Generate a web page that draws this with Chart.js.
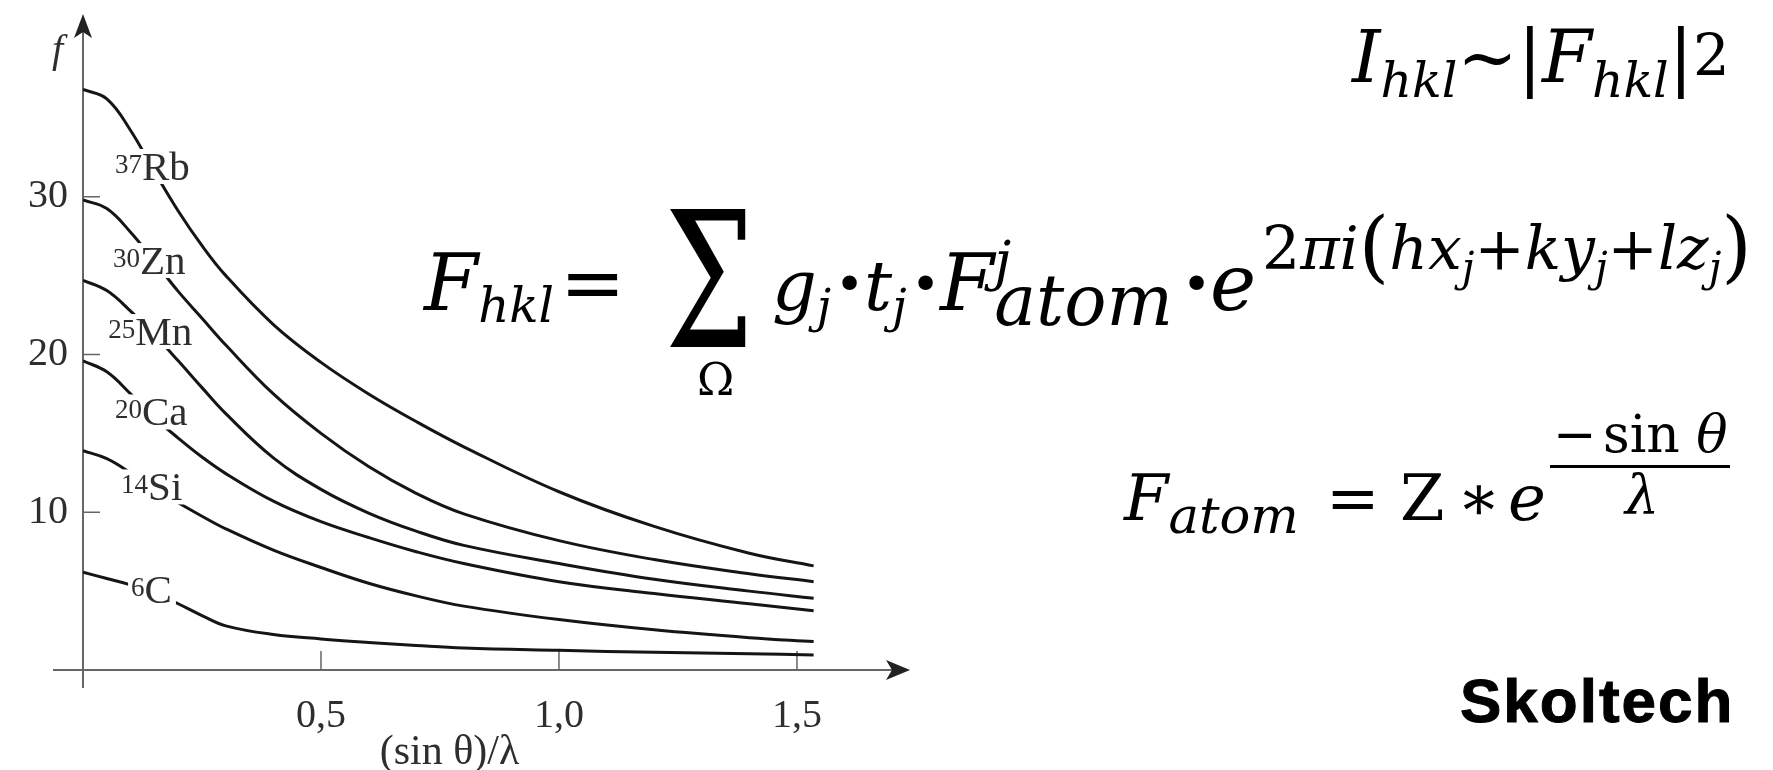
<!DOCTYPE html>
<html>
<head>
<meta charset="utf-8">
<title>Atomic scattering factor</title>
<script src="https://cdn.jsdelivr.net/npm/chart.js@4.4.0/dist/chart.umd.min.js"></script>
<style>
  html, body { margin: 0; padding: 0; background: #fff; }
  #page { position: relative; width: 1773px; height: 770px; overflow: hidden; }
  #chartBox { position: absolute; left: 0; top: 0; width: 1773px; height: 770px; }
  .math { position: absolute; font-family: 'DejaVu Serif', serif; line-height: 1; white-space: nowrap; color: #000; }
  .math i { font-style: italic; }
  .sb { font-size: 0.68em; font-style: italic; position: relative; top: 0.3em; }
  .sp { font-size: 0.68em; position: relative; top: -0.6em; }
  .big { font-size: 1.3em; position: relative; top: 0.05em; }
  .nw { display: inline-block; width: 0; }
  .dot { font-weight: bold; }
  #skoltech { position: absolute; font-family: 'Liberation Sans', Arial, sans-serif; font-weight: bold;
              line-height: 1; color: #000; letter-spacing: 2px; -webkit-text-stroke: 1px #000; }
  #fracLine { position: absolute; background: #000; }
</style>
</head>
<body>
<div id="page">
  <div id="chartBox"><canvas id="formFactorChart"></canvas></div>

  <!-- I_hkl ~ |F_hkl|^2 -->
  <div class="math" style="left:1352px; top:21px; font-size:72px;"><i>I</i><span class="sb">hkl</span>~|<i>F</i><span class="sb">hkl</span>|<span class="sp" style="font-size:0.8em; top:-0.12em;">2</span></div>

  <!-- structure factor -->
  <div class="math" style="left:424px; top:244px; font-size:78px;"><i>F</i><span class="sb" style="font-size:0.62em; top:0.25em;">hkl</span></div>
  <div class="math" style="left:560px; top:244px; font-size:78px;">=</div>
  <div class="math" style="left:665px; top:187px; font-size:190px; transform:scaleX(0.66); transform-origin:left top;">Σ</div>
  <div class="math" style="left:697px; top:357px; font-size:45px;">Ω</div>
  <div class="math" style="left:772px; top:251px; font-size:70px;"><i>g</i><span class="sb" style="font-size:0.66em; top:0.25em;">j</span></div>
  <div class="math dot" style="left:836px; top:244px; font-size:78px;">·</div>
  <div class="math" style="left:864px; top:251px; font-size:70px;"><i>t</i><span class="sb" style="font-size:0.66em; top:0.25em;">j</span></div>
  <div class="math dot" style="left:912px; top:244px; font-size:78px;">·</div>
  <div class="math" style="left:940px; top:244px; font-size:78px;"><i>F</i><span class="sp nw" style="font-size:0.7em; top:-0.55em;"><i>j</i></span><span class="sb" style="font-size:0.9em; top:0.22em;">atom</span></div>
  <div class="math dot" style="left:1183px; top:244px; font-size:78px;">·</div>
  <div class="math" style="left:1210px; top:244px; font-size:78px;"><i>e</i></div>
  <div class="math" style="left:1262px; top:203px; font-size:60px;">2<i>πi</i><span class="big">(</span><i>hx</i><span class="sb">j</span>+<i>ky</i><span class="sb">j</span>+<i>lz</i><span class="sb">j</span><span class="big">)</span></div>

  <!-- atomic factor -->
  <div class="math" style="left:1124px; top:466px; font-size:64px;"><i>F</i><span class="sb" style="font-size:0.8em; top:0.25em;">atom</span></div>
  <div class="math" style="left:1326px; top:466px; font-size:64px;">=</div>
  <div class="math" style="left:1400px; top:466px; font-size:64px;">Z</div>
  <div class="math" style="left:1457px; top:466px; font-size:64px;">∗</div>
  <div class="math" style="left:1508px; top:466px; font-size:64px;"><i>e</i></div>
  <div class="math" style="left:1553px; top:408px; font-size:52px;">−</div>
  <div class="math" style="left:1603px; top:408px; font-size:52px;">sin <i>θ</i></div>
  <div id="fracLine" style="left:1550px; top:465px; width:180px; height:3px;"></div>
  <div class="math" style="left:1625px; top:468px; font-size:54px;"><i>λ</i></div>

  <div id="skoltech" style="left:1460px; top:670px; font-size:62px;">Skoltech</div>
</div>

<script>
// f(sinθ/λ) for a few elements, read along a common grid
const sinThetaOverLambda = [0, 0.05, 0.1, 0.15, 0.2, 0.25, 0.3, 0.4, 0.5, 0.6, 0.7, 0.8, 1.0, 1.2, 1.4, 1.535];
const fRb = [36.8, 36.2, 34.2, 31.6, 29.1, 26.9, 25.0, 21.9, 19.5, 17.5, 15.75, 14.15, 11.3, 9.1, 7.4, 6.6];
const fZn = [29.8, 29.25, 27.75, 25.9, 24.0, 22.3, 20.6, 17.5, 15.0, 12.9, 11.2, 9.9, 8.2, 7.0, 6.1, 5.6];
const fMn = [24.7, 24.05, 22.75, 21.25, 19.6, 17.9, 16.25, 13.45, 11.45, 9.95, 8.8, 7.9, 6.75, 5.75, 5.0, 4.55];
const fCa = [19.6, 18.9, 17.5, 16.0, 14.7, 13.5, 12.45, 10.7, 9.4, 8.4, 7.5, 6.75, 5.6, 4.85, 4.2, 3.75];
const fSi = [13.9, 13.4, 12.5, 11.5, 10.6, 9.75, 8.95, 7.6, 6.5, 5.5, 4.7, 4.05, 3.2, 2.55, 2.05, 1.8];
const fC  = [6.2, 5.8, 5.4, 4.9, 4.2, 3.45, 2.8, 2.25, 1.97, 1.75, 1.56, 1.4, 1.25, 1.12, 1.03, 0.95];

// curve labels: element, Z, anchor (left edge, baseline) in data units
const elementSymbols = ['Rb', 'Zn', 'Mn', 'Ca', 'Si', 'C'];
const atomicNumbers = ['37', '30', '25', '20', '14', '6'];
const labelX = [0.067, 0.063, 0.053, 0.067, 0.080, 0.101];
const labelF = [31.06, 25.1, 20.6, 15.5, 10.75, 4.25];

const xTickValues = [0.5, 1.0, 1.5];
const yTickValues = [10, 20, 30];

const AXIS_COLOR = '#666';
const TEXT_COLOR = '#2e2e2e';
const SERIF = "'Liberation Serif', 'Times New Roman', serif";

function series(values) {
  return values.map((v, i) => ({ x: sinThetaOverLambda[i], y: v }));
}

// axes drawn as arrows with inward tick marks
const arrowAxes = {
  id: 'arrowAxes',
  beforeDatasetsDraw(chart) {
    const { ctx, scales: { x, y } } = chart;
    const x0 = x.getPixelForValue(0);
    const y0 = y.getPixelForValue(0);
    ctx.save();
    ctx.strokeStyle = AXIS_COLOR;
    ctx.fillStyle = '#222';
    ctx.lineWidth = 2;

    ctx.beginPath();
    ctx.moveTo(x0, y0 + 18);
    ctx.lineTo(x0, 30);
    ctx.moveTo(x0 - 30, y0);
    ctx.lineTo(895, y0);
    ctx.stroke();

    // arrow heads
    ctx.beginPath();
    ctx.moveTo(x0, 14);
    ctx.lineTo(x0 - 9, 38);
    ctx.lineTo(x0, 32);
    ctx.lineTo(x0 + 9, 38);
    ctx.closePath();
    ctx.fill();
    ctx.beginPath();
    ctx.moveTo(910, y0);
    ctx.lineTo(886, y0 - 10);
    ctx.lineTo(892, y0);
    ctx.lineTo(886, y0 + 10);
    ctx.closePath();
    ctx.fill();

    ctx.lineWidth = 1.5;
    ctx.beginPath();
    yTickValues.forEach(v => {
      const py = y.getPixelForValue(v);
      ctx.moveTo(x0, py);
      ctx.lineTo(x0 + 17, py);
    });
    xTickValues.forEach(v => {
      const px = x.getPixelForValue(v);
      ctx.moveTo(px, y0);
      ctx.lineTo(px, y0 - 19);
    });
    ctx.stroke();

    ctx.fillStyle = TEXT_COLOR;
    ctx.font = 'italic 40px ' + SERIF;
    ctx.textBaseline = 'alphabetic';
    ctx.fillText('f', 52, 62);
    ctx.restore();
  }
};

// element labels sitting in gaps cut into the curves
const curveLabels = {
  id: 'curveLabels',
  afterDatasetsDraw(chart) {
    const { ctx, scales: { x, y } } = chart;
    ctx.save();
    ctx.textBaseline = 'alphabetic';
    elementSymbols.forEach((sym, i) => {
      const px = x.getPixelForValue(labelX[i]);
      const py = y.getPixelForValue(labelF[i]);
      ctx.font = '27px ' + SERIF;
      const wNum = ctx.measureText(atomicNumbers[i]).width;
      ctx.font = '41px ' + SERIF;
      const wSym = ctx.measureText(sym).width;
      ctx.fillStyle = '#fff';
      ctx.fillRect(px - 3, py - 31, wNum + wSym + 7, 35);
      ctx.fillStyle = TEXT_COLOR;
      ctx.font = '27px ' + SERIF;
      ctx.fillText(atomicNumbers[i], px, py - 7);
      ctx.font = '41px ' + SERIF;
      ctx.fillText(sym, px + wNum, py);
    });
    ctx.restore();
  }
};

const curveColor = '#151515';
const datasets = [fRb, fZn, fMn, fCa, fSi, fC].map((vals, i) => ({
  label: elementSymbols[i],
  data: series(vals),
  borderColor: curveColor,
  borderWidth: 3,
  pointRadius: 0,
  fill: false,
  tension: 0.4
}));

const ctx = document.getElementById('formFactorChart').getContext('2d');
new Chart(ctx, {
  type: 'line',
  data: { datasets },
  plugins: [arrowAxes, curveLabels],
  options: {
    responsive: true,
    maintainAspectRatio: false,
    animation: false,
    layout: { padding: { top: 30, right: 957, left: 0, bottom: 0 } },
    plugins: { legend: { display: false }, tooltip: { enabled: false } },
    scales: {
      x: {
        type: 'linear',
        min: 0,
        max: 1.54,
        border: { display: false },
        grid: { display: false, drawTicks: false },
        afterBuildTicks: scale => { scale.ticks = xTickValues.map(v => ({ value: v })); },
        afterFit: scale => { scale.height = 100; },
        ticks: {
          padding: 22,
          color: TEXT_COLOR,
          font: { family: SERIF, size: 40 },
          callback: v => v.toFixed(1).replace('.', ',')
        },
        title: {
          display: true,
          text: '(sin θ)/λ',
          color: TEXT_COLOR,
          font: { family: SERIF, size: 42, lineHeight: 1 },
          padding: { top: 0, bottom: -4 }
        }
      },
      y: {
        min: 0,
        max: 40,
        border: { display: false },
        grid: { display: false, drawTicks: false },
        afterBuildTicks: scale => { scale.ticks = yTickValues.map(v => ({ value: v })); },
        afterFit: scale => { scale.width = 83; },
        ticks: {
          padding: 15,
          color: TEXT_COLOR,
          font: { family: SERIF, size: 40 }
        }
      }
    }
  }
});
</script>
</body>
</html>
